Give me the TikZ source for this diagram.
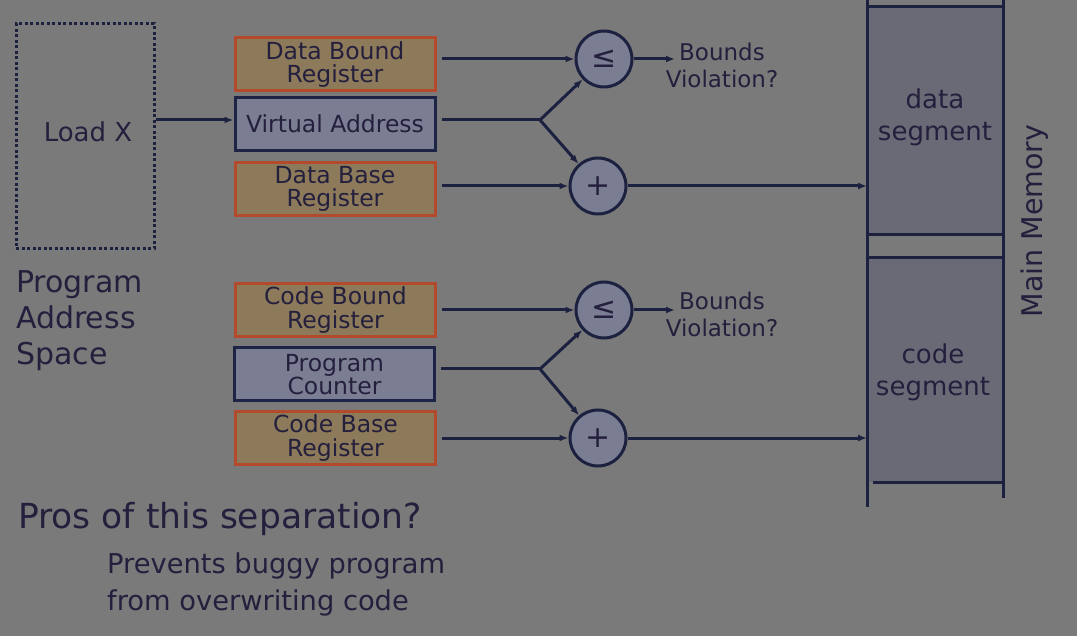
\documentclass[tikz,border=0pt]{standalone}
\usepackage{fontspec}
\setmainfont{DejaVu Sans}
\usetikzlibrary{arrows.meta}
\definecolor{bgc}{HTML}{7A7A7A}
\definecolor{regfill}{HTML}{8C7A5A}
\definecolor{regedge}{HTML}{B44A2C}
\definecolor{addrfill}{HTML}{7B7E93}
\definecolor{addredge}{HTML}{1E2446}
\definecolor{memfill}{HTML}{696A76}
\definecolor{navy}{HTML}{1C2140}
\definecolor{ink}{HTML}{241F3D}
\begin{document}
\begin{tikzpicture}[x=1pt,y=-1pt,>={Latex[length=9pt,width=7pt]},
  wire/.style={line width=3pt,draw=navy},
  reg/.style={draw=regedge,fill=regfill,line width=3pt,minimum width=200pt,
    minimum height=53pt,inner sep=0pt,align=center,text=ink,
    font=\fontsize{23.5}{23.5}\selectfont},
  addr/.style={reg,draw=addredge,fill=addrfill},
  op/.style={circle,draw=navy,fill=addrfill,line width=3pt,minimum size=56pt,
    inner sep=0pt,text=ink,font=\fontsize{30}{30}\selectfont},
  lbl/.style={inner sep=0pt,text=ink,align=center}]
\useasboundingbox (0,0) rectangle (1077,636);
\fill[bgc] (0,0) rectangle (1077,636);

% program address space
\node[draw=navy,line width=3pt,dash pattern=on 3pt off 2.5pt,minimum width=138pt,
  minimum height=225pt] (loadx) at (85,136.5) {};
\node[lbl,font=\fontsize{26}{26}\selectfont] (loadtxt) at (88,132) {Load X};
\node[lbl,anchor=north west,align=left,font=\fontsize{30}{36}\selectfont] (pas) at (16,270)
  {Program\\Address\\Space};

% data path
\begin{scope}
	\node[reg] (dbound) at (335,64.5) {Data Bound\\Register};
	\node[addr] (vaddr) at (335,124) {Virtual Address};
	\node[reg] (dbase) at (335,189) {Data Base\\Register};
	\node[op] (dle) at (604,59) {≤};
	\node[op] (dplus) at (598,186) {+};
	\coordinate (dbr) at (540,120);
	\coordinate (dtip) at (675,59);
	\coordinate (dseg) at (867,186);
	\node[lbl,font=\fontsize{23}{27}\selectfont] (dbv) at (722,65) {Bounds\\Violation?};
	\draw[wire,->] (dbound.east |- dle) ++(5,0) -- (dle);
	\draw[wire] (vaddr.east |- dbr) ++(5,0) -- (dbr);
	\draw[wire,->] (dbr) -- (dle);
	\draw[wire,->] (dbr) -- (dplus);
	\draw[wire,->] (dbase.east |- dplus) ++(5,0) -- (dplus);
	\draw[wire,->] (dle) -- (dtip);
	\draw[wire,->] (dplus) -- (dseg);
\end{scope}
\draw[wire,->] (loadx.east |- dbr) -- (vaddr.west |- dbr);

% code path
\begin{scope}[shift={(0,251)}]
	\node[reg] (cbound) at (335.5,59) {Code Bound\\Register};
	\node[addr] (pc) at (334.5,123.5) {Program\\Counter};
	\node[reg] (cbase) at (335.5,187) {Code Base\\Register};
	\node[op] (cle) at (604,59) {≤};
	\node[op] (cplus) at (598,187) {+};
	\coordinate (cbr) at (540,118);
	\coordinate (ctip) at (675,59);
	\coordinate (cseg) at (867,187);
	\node[lbl,font=\fontsize{23}{27}\selectfont] (cbv) at (722,63) {Bounds\\Violation?};
	\draw[wire,->] (cbound.east |- cle) ++(5,0) -- (cle);
	\draw[wire] (pc.east |- cbr) ++(5,0) -- (cbr);
	\draw[wire,->] (cbr) -- (cle);
	\draw[wire,->] (cbr) -- (cplus);
	\draw[wire,->] (cbase.east |- cplus) ++(5,0) -- (cplus);
	\draw[wire,->] (cle) -- (ctip);
	\draw[wire,->] (cplus) -- (cseg);
\end{scope}

% main memory
\fill[memfill] (867,7) rectangle (1003,235);
\fill[memfill] (867,258) rectangle (1003,482);
\draw[wire] (867,0) -- (867,507);
\draw[wire] (1003,0) -- (1003,498);
\draw[wire] (867,7) -- (1003,7);
\draw[wire] (867,235) -- (1003,235);
\draw[wire] (867,258) -- (1003,258);
\draw[wire] (873,482) -- (1003,482);
\node[lbl,font=\fontsize{26}{32}\selectfont] (dsegtxt) at (935,117) {data\\segment};
\node[lbl,font=\fontsize{26}{32}\selectfont] (csegtxt) at (933,372) {code\\segment};
\node[lbl,rotate=90,font=\fontsize{28.5}{28.5}\selectfont] (mainmem) at (1035,221) {Main Memory};

% question
\node[lbl,anchor=base west,font=\fontsize{34.5}{34.5}\selectfont] (pros) at (18,528) {Pros of this separation?};
\node[lbl,anchor=north west,align=left,font=\fontsize{27.3}{37}\selectfont] (prevents) at (107,553)
  {Prevents buggy program\\from overwriting code};
\end{tikzpicture}
\end{document}
